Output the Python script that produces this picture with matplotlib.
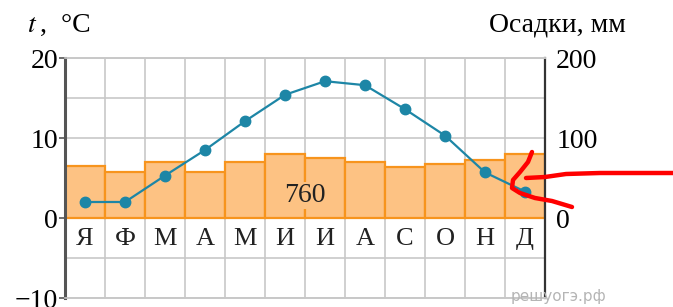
import matplotlib
matplotlib.use("Agg")
import matplotlib.pyplot as plt
from matplotlib.lines import Line2D
import numpy as np

months = ["Я", "Ф", "М", "А", "М", "И", "И", "А", "С", "О", "Н", "Д"]
temperature = [2.0, 2.0, 5.3, 8.5, 12.1, 15.4, 17.1, 16.6, 13.6, 10.3, 5.7, 3.3]
precipitation = [65, 58, 70, 58, 70, 80, 75, 70, 64, 68, 73, 80]
total_label = "760"
temp_ticks = [20, 10, 0, -10]
precip_ticks = [200, 100, 0]

plt.rcParams['font.family'] = ['Liberation Serif', 'DejaVu Serif']

W, H = 673, 307
fig = plt.figure(figsize=(W / 100, H / 100), dpi=100)
ax = fig.add_axes([65 / W, (H - 298) / H, 480 / W, 240 / H])
ax2 = ax.twinx()
ax2.xaxis.set_visible(True)

x = np.arange(1, 13)
grid_c = "#c8c8c8"

# precipitation bars + grid on ax2 (behind)
ax2.set_ylim(-100, 200)
ax2.set_xlim(0.5, 12.5)
ax2.bar(x, precipitation, width=1.0, color="#fdc283", edgecolor="#f7941d",
        linewidth=1.6, zorder=2)
ax2.set_yticks(precip_ticks)
ax2.set_yticks(np.arange(-100, 201, 50), minor=True)
ax2.set_yticklabels([str(v) for v in precip_ticks], fontsize=20)
ax2.tick_params(axis='y', which='major', length=0, pad=8)
ax2.tick_params(axis='y', which='minor', length=0)
ax2.yaxis.grid(True, which='both', color=grid_c, lw=1.2, zorder=0)
ax2.set_xticks(np.arange(0.5, 12.6, 1.0))
ax2.xaxis.grid(True, color=grid_c, lw=1.2, zorder=0)
ax2.set_axisbelow(True)
ax2.tick_params(axis='x', length=0, labelbottom=False)

# temperature on ax (front)
ax.set_zorder(ax2.get_zorder() + 1)
ax.patch.set_visible(False)
ax.set_ylim(-10, 20)
ax.set_xlim(0.5, 12.5)
ax.plot(x, temperature, color="#1d86a6", lw=1.6, marker='o', ms=7.5, zorder=5)
ax.set_yticks(temp_ticks)
ax.set_yticklabels([str(v).replace('-', '\u2212') for v in temp_ticks], fontsize=20)
ax.tick_params(axis='y', length=4, width=1.2, color="#555555", pad=1)
ax.tick_params(axis='x', length=0, labelbottom=False)

for xi, m in zip(x, months):
    ax.text(xi, -2.6, m, ha='center', va='center', fontsize=19, color="#222222")

ax.text(6.5, 2.8, total_label, ha='center', va='center', fontsize=20, color="#222222",
        bbox=dict(facecolor="#fdc283", edgecolor='none', pad=1), zorder=6)

for a in (ax, ax2):
    a.spines['top'].set_color(grid_c)
    a.spines['bottom'].set_color(grid_c)
    a.spines['top'].set_linewidth(1.2)
    a.spines['bottom'].set_linewidth(1.2)
ax.spines['left'].set_color("#555555")
ax.spines['left'].set_linewidth(2.2)
ax.spines['right'].set_visible(False)
ax2.spines['left'].set_visible(False)
ax2.spines['right'].set_color("#333333")
ax2.spines['right'].set_linewidth(1.6)

fig.text(27 / W, 1 - 25 / H, "$t$", fontsize=20, va='center', ha='left',
         family='Liberation Serif', math_fontfamily='stix')
fig.text(40 / W, 1 - 25 / H, ",  °C", fontsize=20, va='center', ha='left')
fig.text(626 / W, 1 - 25 / H, "Осадки, мм", fontsize=20, va='center', ha='right')
fig.text(558 / W, 1 - 297 / H, "решуогэ.рф", fontsize=11, va='center', ha='center',
         color="#b5b5b5", family='DejaVu Sans')

# hand-drawn red arrow annotation
def px(pts):
    xs = [p[0] / W for p in pts]
    ys = [1 - p[1] / H for p in pts]
    return xs, ys

strokes = [
    [(532, 152), (528, 162), (520, 172), (513, 180), (512, 188), (520, 193), (535, 198), (552, 201), (572, 207)],
    [(673, 173), (600, 173), (566, 174), (545, 177), (526, 178)],
]
for s in strokes:
    xs, ys = px(s)
    fig.add_artist(Line2D(xs, ys, color="#ff0000", lw=3.2, solid_capstyle='round',
                          solid_joinstyle='round', transform=fig.transFigure, zorder=20))

fig.savefig("out.png", dpi=100)
